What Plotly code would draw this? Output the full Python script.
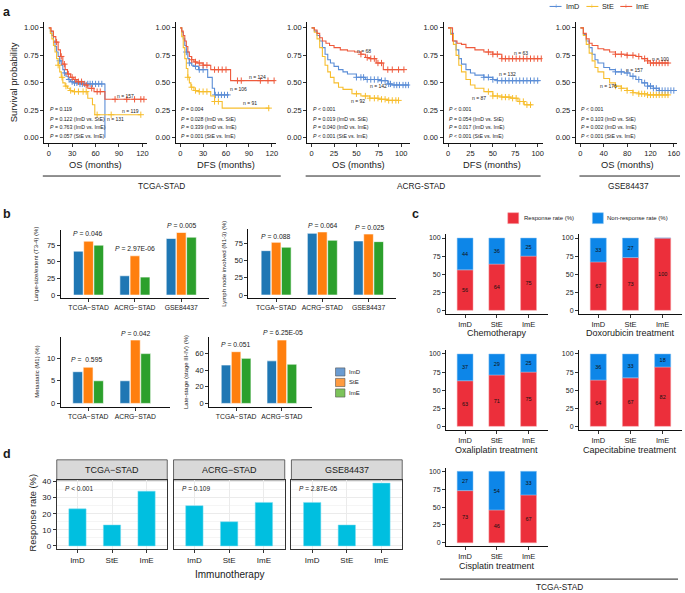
import plotly.graph_objects as go

W, H = 685, 593
FONT = "Liberation Sans"
TXT = "#1a1a1a"

# ---------------- colours ----------------
C_IMD, C_STE, C_IME = "#5B8DD6", "#F7BE2E", "#EE5A3C"
B_COL = ["#1F77B4", "#FF7F0E", "#2CA02C"]
B_LEG = ["#6A9BD1", "#FF9B40", "#7CC35A"]
C_RESP, C_NON = "#EC2F3B", "#0D86E8"
D_COL = "#00BFE0"

# ---------------- panel a : Kaplan-Meier step knots ----------------
# TCGA-STAD OS
TO_IMD_T = [0, 2, 4, 6, 8, 10, 12, 14, 16, 18, 20, 22, 25, 28, 32, 40, 72]
TO_IMD_S = [1, .97, .93, .88, .83, .78, .74, .70, .66, .62, .59, .56, .53, .51, .50, .49, 0.0]
TO_IMD_END = 72
TO_IMD_C = [14, 20, 26, 30, 33, 36, 40, 43, 46, 50, 53, 56, 60, 64, 68]
TO_STE_T = [0, 2, 4, 6, 8, 10, 12, 14, 16, 18, 21, 24, 27, 30, 50, 56, 59]
TO_STE_S = [1, .95, .90, .84, .78, .72, .66, .60, .55, .50, .47, .45, .43, .42, .36, .30, .21]
TO_STE_END = 118
TO_STE_C = [12, 17, 22, 28, 33, 38, 44, 48, 62, 80, 118]
TO_IME_T = [0, 3, 6, 9, 12, 15, 18, 21, 24, 28, 32, 36, 45, 50, 58, 72]
TO_IME_S = [1, .97, .92, .87, .80, .74, .67, .62, .58, .55, .53, .51, .48, .45, .42, .35]
TO_IME_END = 122
TO_IME_C = [10, 16, 20, 25, 30, 34, 38, 42, 48, 55, 62, 66, 85, 100, 110, 118, 122]

# TCGA-STAD DFS
TD_IMD_T = [0, 2, 4, 6, 8, 10, 12, 15, 18, 24, 36, 42, 45]
TD_IMD_S = [1, .96, .90, .84, .78, .72, .68, .66, .65, .62, .55, .45, .39]
TD_IMD_END = 64
TD_IMD_C = [8, 12, 20, 25, 30, 46, 50, 54, 58, 62]
TD_STE_T = [0, 2, 4, 6, 8, 10, 12, 14, 18, 24, 40, 45, 55]
TD_STE_S = [1, .92, .82, .72, .63, .55, .50, .46, .43, .42, .38, .33, .27]
TD_STE_END = 117
TD_STE_C = [10, 15, 20, 25, 30, 35, 45, 50, 116]
TD_IME_T = [0, 2, 4, 6, 8, 10, 12, 15, 18, 22, 30, 40, 66]
TD_IME_S = [1, .97, .93, .88, .83, .78, .74, .71, .69, .68, .66, .62, .52]
TD_IME_END = 123
TD_IME_C = [15, 20, 25, 30, 35, 45, 50, 55, 60, 75, 80, 105, 115, 123]

# ACRG-STAD OS
AO_IMD_T = [0, 3, 6, 9, 12, 15, 18, 21, 25, 30, 35, 40, 50, 60, 75, 85, 90]
AO_IMD_S = [1, .97, .93, .88, .82, .76, .71, .68, .65, .62, .60, .58, .55, .53, .52, .49, .48]
AO_IMD_END = 108
AO_IMD_C = [50, 55, 58, 62, 66, 70, 74, 78, 82, 86, 88, 92, 95, 98, 102, 105, 108]
AO_STE_T = [0, 3, 6, 9, 12, 15, 18, 21, 25, 30, 35, 45, 55, 65, 75, 85]
AO_STE_S = [1, .96, .90, .82, .74, .66, .60, .55, .50, .46, .44, .40, .38, .36, .35, .34]
AO_STE_END = 97
AO_STE_C = [50, 60, 65, 70, 74, 78, 82, 86, 90, 94, 97]
AO_IME_T = [0, 3, 6, 9, 12, 16, 20, 25, 32, 40, 48, 55, 60, 65, 72, 80]
AO_IME_S = [1, .98, .95, .91, .88, .86, .84, .82, .80, .79, .78, .76, .73, .72, .68, .62]
AO_IME_END = 103
AO_IME_C = [55, 62, 66, 70, 74, 78, 85, 90, 97, 103]

# ACRG-STAD DFS
AD_IMD_T = [0, 3, 6, 9, 12, 15, 20, 25, 30, 40, 50, 55]
AD_IMD_S = [1, .95, .88, .80, .72, .67, .62, .59, .57, .55, .53, .52]
AD_IMD_END = 102
AD_IMD_C = [40, 45, 50, 55, 60, 64, 68, 72, 76, 80, 84, 88, 92, 96, 100]
AD_STE_T = [0, 3, 6, 9, 12, 15, 20, 25, 30, 40, 50, 60, 70, 78, 85]
AD_STE_S = [1, .94, .85, .75, .66, .60, .53, .48, .45, .42, .38, .37, .36, .33, .30]
AD_STE_END = 94
AD_STE_C = [45, 50, 55, 60, 64, 68, 72, 76, 80, 84, 88, 92]
AD_IME_T = [0, 5, 10, 15, 20, 30, 40, 50, 60]
AD_IME_S = [1, .88, .86, .85, .82, .80, .78, .76, .72]
AD_IME_END = 104
AD_IME_C = [45, 50, 55, 60, 64, 68, 72, 76, 80, 84, 88, 92, 96, 100, 104]

# GSE84437 OS
GO_IMD_T = [0, 5, 10, 15, 20, 25, 30, 40, 50, 60, 75, 85, 95, 105, 115, 125, 135]
GO_IMD_S = [1, .94, .88, .82, .76, .71, .68, .64, .62, .60, .59, .56, .53, .50, .47, .45, .43]
GO_IMD_END = 162
GO_IMD_C = [60, 70, 80, 90, 100, 110, 115, 120, 125, 130, 135, 140, 145, 150, 155, 160]
GO_STE_T = [0, 5, 10, 15, 20, 25, 30, 40, 50, 60, 70, 80, 90, 100, 115]
GO_STE_S = [1, .93, .85, .77, .70, .64, .60, .54, .50, .47, .45, .43, .41, .40, .39]
GO_STE_END = 152
GO_STE_C = [60, 70, 80, 90, 100, 105, 110, 115, 120, 125, 130, 135, 140, 145, 150]
GO_IME_T = [0, 5, 10, 15, 20, 30, 40, 50, 60, 80, 95, 105, 115, 120]
GO_IME_S = [1, .95, .90, .86, .84, .81, .80, .78, .76, .75, .74, .72, .70, .68]
GO_IME_END = 152
GO_IME_C = [60, 70, 80, 90, 100, 110, 115, 120, 125, 130, 135, 140, 145, 150]

SURV_TICKS_Y = [0, 0.25, 0.5, 0.75, 1.0]
SURV_TICKTEXT_Y = ["0.00", "0.25", "0.50", "0.75", "1.00"]

P_TO = ["P = 0.119", "P = 0.122 (ImD vs. StE)", "P = 0.763 (ImD vs. ImE)", "P = 0.057 (StE vs. ImE)"]
P_TD = ["P = 0.004", "P = 0.028 (ImD vs. StE)", "P = 0.339 (ImD vs. ImE)", "P = 0.001 (StE vs. ImE)"]
P_AO = ["P < 0.001", "P = 0.019 (ImD vs. StE)", "P = 0.040 (ImD vs. ImE)", "P < 0.001 (StE vs. ImE)"]
P_AD = ["P < 0.001", "P = 0.054 (ImD vs. StE)", "P = 0.017 (ImD vs. ImE)", "P < 0.001 (StE vs. ImE)"]
P_GO = ["P < 0.001", "P = 0.103 (ImD vs. StE)", "P = 0.002 (ImD vs. ImE)", "P < 0.001 (StE vs. ImE)"]

N_TO = ["n = 131", "n = 119", "n = 157"]
N_TD = ["n = 106", "n = 91", "n = 124"]
N_AO = ["n = 142", "n = 92", "n = 68"]
N_AD = ["n = 132", "n = 87", "n = 63"]
N_GO = ["n = 157", "n = 176", "n = 100"]

# ---------------- panel b ----------------
B_COH3 = ["TCGA\u2212STAD", "ACRG\u2212STAD", "GSE84437"]
B_COH2 = ["TCGA\u2212STAD", "ACRG\u2212STAD"]
B_T34_IMD = [66, 29, 85]
B_T34_STE = [81, 59, 94]
B_T34_IME = [75, 27, 87]
B_N13_IMD = [64, 89, 78]
B_N13_STE = [76, 91, 88]
B_N13_IME = [69, 79, 77]
B_M1_IMD = [7, 5]
B_M1_STE = [8, 14]
B_M1_IME = [5, 11]
B_ST_IMD = [46, 51]
B_ST_STE = [62, 76]
B_ST_IME = [54, 47]
B_P_T34 = ["P = 0.046", "P = 2.97E-06", "P = 0.005"]
B_P_N13 = ["P = 0.088", "P = 0.064", "P = 0.025"]
B_P_M1 = ["P =  0.595", "P = 0.042"]
B_P_ST = ["P = 0.051", "P = 6.25E-05"]

# ---------------- panel c ----------------
SUBTYPES = ["ImD", "StE", "ImE"]
C_CHEMO_R = [56, 64, 75]
C_CHEMO_N = [44, 36, 25]
C_DOXO_R = [67, 73, 100]
C_DOXO_N = [33, 27, 0]
C_OXA_R = [63, 71, 75]
C_OXA_N = [37, 29, 25]
C_CAPE_R = [64, 67, 82]
C_CAPE_N = [36, 33, 18]
C_CIS_R = [73, 46, 67]
C_CIS_N = [27, 54, 33]

# ---------------- panel d ----------------
D_TCGA = [23, 13, 34]
D_ACRG = [25, 15, 27]
D_GSE = [27, 13, 39]
D_P = ["P < 0.001", "P = 0.109", "P = 2.87E-05"]

# ======================================================================
fig = go.Figure()
LAYOUT = {}
ANN = []
SHP = []
_k = [0]


def fx(p):
    return p / W


def fy(p):
    return 1 - p / H


def italp(s):
    return s.replace("P ", "<i>P</i> ", 1)


def txt(x, y, s, size, xanchor="center", yanchor="middle", angle=0, color=TXT,
        xref="paper", yref="paper"):
    if xref == "paper":
        x = fx(x)
    if yref == "paper":
        y = fy(y)
    ANN.append(dict(x=x, y=y, xref=xref, yref=yref, text=s, showarrow=False,
                    font=dict(size=size, color=color, family=FONT),
                    xanchor=xanchor, yanchor=yanchor, textangle=angle, borderpad=0))


def hline(x0, x1, y, color="#222", width=1):
    SHP.append(dict(type="line", xref="paper", yref="paper", x0=fx(x0), x1=fx(x1),
                    y0=fy(y), y1=fy(y), line=dict(color=color, width=width)))


def rect(x0, y0, x1, y1, fill, line="#444", lw=0.8):
    SHP.append(dict(type="rect", xref="paper", yref="paper", x0=fx(x0), x1=fx(x1),
                    y0=fy(y1), y1=fy(y0), fillcolor=fill, line=dict(color=line, width=lw),
                    layer="below"))


def add_axes(xpx, ypx, xr, yr, ytv, ytt=None, xtv=None, xtt=None, xfont=7, yfont=7,
             box=False, grid=False, show_y=True, xcat=False):
    _k[0] += 1
    k = _k[0]
    s = "" if k == 1 else str(k)
    xn, yn = "x" + s, "y" + s
    base = dict(showline=True, linecolor="#111", linewidth=1, ticks="outside", ticklen=3,
                tickwidth=1, tickcolor="#333", zeroline=False, showgrid=False, fixedrange=True)
    xa = dict(base, domain=[fx(xpx[0]), fx(xpx[1])], range=xr, anchor=yn,
              tickfont=dict(size=xfont, color=TXT, family=FONT))
    if xcat:
        xa.update(type="category")
    else:
        xa.update(tickmode="array", tickvals=xtv, ticktext=xtt)
    ya = dict(base, domain=[fy(ypx[1]), fy(ypx[0])], range=yr, anchor=xn,
              tickmode="array", tickvals=ytv, ticktext=ytt if ytt else [str(v) for v in ytv],
              tickfont=dict(size=yfont, color=TXT, family=FONT))
    if box:
        for a in (xa, ya):
            a.update(mirror=True, linecolor="#333", linewidth=0.8, tickcolor="#333")
    if grid:
        xa.update(showgrid=True, gridcolor="#EBEBEB", gridwidth=0.8)
        ya.update(showgrid=True, gridcolor="#EBEBEB", gridwidth=0.8,
                  minor=dict(tickvals=[5, 15, 25, 35], showgrid=True, gridcolor="#F5F5F5",
                             gridwidth=0.5, ticks=""))
    if not show_y:
        ya.update(showticklabels=False, ticks="")
    LAYOUT["xaxis" + s] = xa
    LAYOUT["yaxis" + s] = ya
    return xn, yn


def step_at(t, s, q):
    v = s[0]
    for ti, si in zip(t, s):
        if ti <= q:
            v = si
    return v


# ----------------------------- panel a -----------------------------
SURV_Y = (19.5, 141.5)
surv_plots = [
    dict(xpx=(44.3, 147.7), xr=[-6, 126], xt=[0, 30, 60, 90, 120], title="OS (months)", tx=96,
         ser=[(TO_IMD_T, TO_IMD_S, TO_IMD_END, TO_IMD_C, C_IMD),
              (TO_STE_T, TO_STE_S, TO_STE_END, TO_STE_C, C_STE),
              (TO_IME_T, TO_IME_S, TO_IME_END, TO_IME_C, C_IME)],
         n=N_TO, npos=[(74, .17), (93, .24), (86, .38)], p=P_TO),
    dict(xpx=(176.4, 277.6), xr=[-6, 126], xt=[0, 30, 60, 90, 120], title="DFS (months)", tx=227,
         ser=[(TD_IMD_T, TD_IMD_S, TD_IMD_END, TD_IMD_C, C_IMD),
              (TD_STE_T, TD_STE_S, TD_STE_END, TD_STE_C, C_STE),
              (TD_IME_T, TD_IME_S, TD_IME_END, TD_IME_C, C_IME)],
         n=N_TD, npos=[(64, .44), (81, .32), (89, .55)], p=P_TD),
    dict(xpx=(308.5, 412), xr=[-5, 110], xt=[0, 25, 50, 75, 100], title="OS (months)", tx=360,
         ser=[(AO_IMD_T, AO_IMD_S, AO_IMD_END, AO_IMD_C, C_IMD),
              (AO_STE_T, AO_STE_S, AO_STE_END, AO_STE_C, C_STE),
              (AO_IME_T, AO_IME_S, AO_IME_END, AO_IME_C, C_IME)],
         n=N_AO, npos=[(64, .475), (43, .335), (50, .785)], p=P_AO),
    dict(xpx=(445.5, 545), xr=[-5, 105.5], xt=[0, 25, 50, 75, 100], title="DFS (months)", tx=494,
         ser=[(AD_IMD_T, AD_IMD_S, AD_IMD_END, AD_IMD_C, C_IMD),
              (AD_STE_T, AD_STE_S, AD_STE_END, AD_STE_C, C_STE),
              (AD_IME_T, AD_IME_S, AD_IME_END, AD_IME_C, C_IME)],
         n=N_AD, npos=[(56, .58), (26, .363), (72, .775)], p=P_AD),
    dict(xpx=(578.3, 680.3), xr=[-8, 166], xt=[0, 40, 80, 120, 160], title="OS (months)", tx=630,
         ser=[(GO_IMD_T, GO_IMD_S, GO_IMD_END, GO_IMD_C, C_IMD),
              (GO_STE_T, GO_STE_S, GO_STE_END, GO_STE_C, C_STE),
              (GO_IME_T, GO_IME_S, GO_IME_END, GO_IME_C, C_IME)],
         n=N_GO, npos=[(77, .62), (32, .475), (121, .72)], p=P_GO),
]

for sp in surv_plots:
    xn, yn = add_axes(sp["xpx"], SURV_Y, sp["xr"], [-0.05, 1.05], SURV_TICKS_Y, SURV_TICKTEXT_Y,
                      sp["xt"], [str(v) for v in sp["xt"]], xfont=7.5, yfont=7.5)
    for (t, s, end, cens, col) in sp["ser"]:
        fig.add_trace(go.Scatter(x=t + [end], y=s + [s[-1]], mode="lines",
                                 line=dict(shape="hv", color=col, width=1.1),
                                 xaxis=xn, yaxis=yn, hoverinfo="skip"))
        fig.add_trace(go.Scatter(x=cens, y=[step_at(t, s, c) for c in cens], mode="markers",
                                 marker=dict(symbol="cross-thin", size=4.5,
                                             line=dict(color=col, width=1)),
                                 xaxis=xn, yaxis=yn, hoverinfo="skip"))
    for lab, (px, py) in zip(sp["n"], sp["npos"]):
        txt(px, py, lab, 5, xanchor="left", xref=xn, yref=yn)
    for line, ypx in zip(sp["p"], [107, 116.5, 125.5, 134.5]):
        txt(0, ypx, italp(line), 5.2, xanchor="left", xref=xn)
    txt(sp["tx"], 163, sp["title"], 9.3)

txt(2, 9, "<b>a</b>", 12.5, xanchor="left")
txt(13, 80, "Survival probability", 9.5, angle=-90)
# cohort brackets
hline(43, 282, 174.5)
hline(307, 543, 174.5)
hline(582, 683, 174.5)
txt(162, 185, "TCGA-STAD", 8.3)
txt(423, 185, "ACRG-STAD", 8.3)
txt(631, 185, "GSE84437", 8.3)
# survival legend (drawn)
for (lx, lab, col) in [(552, "ImD", C_IMD), (589, "StE", C_STE), (623, "ImE", C_IME)]:
    SHP.append(dict(type="line", xref="paper", yref="paper", x0=fx(lx), x1=fx(lx + 12),
                    y0=fy(3.5), y1=fy(3.5), line=dict(color=col, width=1.1)))
    txt(lx + 6, 3.5, "+", 7, color=col)
    txt(lx + 15, 3.5, lab, 7.3, xanchor="left")

# ----------------------------- panel b -----------------------------
b_plots = [
    dict(xpx=(61, 210), ypx=(229, 297.7), xr=[-0.6, 2.6], yr=[-4.65, 97.65], yt=[0, 25, 50, 75],
         cats=B_COH3, vals=(B_T34_IMD, B_T34_STE, B_T34_IME), p=B_P_T34,
         ppos=[(88, 232), (135.5, 248), (182.5, 224)],
         title="Large-size/extent (T3-4) (%)", tpos=(36, 263)),
    dict(xpx=(249.5, 398), ypx=(227.7, 297.7), xr=[-0.6, 2.6], yr=[-4.55, 95.55], yt=[0, 25, 50, 75],
         cats=B_COH3, vals=(B_N13_IMD, B_N13_STE, B_N13_IME), p=B_P_N13,
         ppos=[(277.5, 235), (324.5, 224), (372, 226)],
         title="Lymph node involved (N1-3) (%)", tpos=(225, 263)),
    dict(xpx=(61, 171), ypx=(336.7, 407), xr=[-0.58, 1.74], yr=[-0.7, 14.7], yt=[0, 5, 10],
         cats=B_COH2, vals=(B_M1_IMD, B_M1_STE, B_M1_IME), p=B_P_M1,
         ppos=[(87, 360), (137, 333)],
         title="Metastatic (M1) (%)", tpos=(37, 372)),
    dict(xpx=(210, 313), ypx=(336.7, 407), xr=[-0.59, 1.65], yr=[-3.8, 79.8], yt=[0, 20, 40, 60],
         cats=B_COH2, vals=(B_ST_IMD, B_ST_STE, B_ST_IME), p=B_P_ST,
         ppos=[(237, 344), (284, 332)],
         title="Late-stage (stage III-IV) (%)", tpos=(187, 372)),
]
for bp in b_plots:
    xn, yn = add_axes(bp["xpx"], bp["ypx"], bp["xr"], bp["yr"], bp["yt"], xfont=6.8, yfont=7.5,
                      xcat=True)
    for vals, col in zip(bp["vals"], B_COL):
        fig.add_trace(go.Bar(x=bp["cats"], y=vals, marker=dict(color=col, line=dict(color="white", width=0.6)),
                             xaxis=xn, yaxis=yn, hoverinfo="skip"))
    for lab, (px, py) in zip(bp["p"], bp["ppos"]):
        txt(px, py, italp(lab), 6.8)
    txt(bp["tpos"][0], bp["tpos"][1], bp["title"], 6, angle=-90)

txt(2, 213, "<b>b</b>", 12.5, xanchor="left")
for i, (lab, col) in enumerate(zip(SUBTYPES, B_LEG)):
    y0 = 368 + i * 10.6
    rect(337, y0, 346.5, y0 + 8.2, col, line="#555", lw=0.6)
    txt(350, y0 + 4.1, lab, 6, xanchor="left")

# ----------------------------- panel c -----------------------------
CX1, CX2 = (448, 550), (581.5, 685)
c_plots = [
    (CX1, (233.4, 313.6), C_CHEMO_R, C_CHEMO_N, "Chemotherapy", 499, 333),
    (CX2, (233.4, 313.6), C_DOXO_R, C_DOXO_N, "Doxorubicin treatment", 633, 333),
    (CX1, (350.3, 430.6), C_OXA_R, C_OXA_N, "Oxaliplatin treatment", 499, 451),
    (CX2, (350.3, 430.6), C_CAPE_R, C_CAPE_N, "Capecitabine treatment", 633, 451),
    (CX1, (468.7, 548.0), C_CIS_R, C_CIS_N, "Cisplatin treatment", 499, 568),
]
for (xpx, ypx, resp, non, title, tx, ty) in c_plots:
    xn, yn = add_axes(xpx, ypx, [-0.6, 2.6], [-5, 105], [0, 25, 50, 75, 100], xfont=7.5, yfont=7,
                      xcat=True)
    fig.add_trace(go.Bar(x=SUBTYPES, y=resp, width=0.5, offset=-0.25, offsetgroup="c",
                         marker=dict(color=C_RESP, line=dict(color="#F6A0A6", width=0.5)),
                         text=[str(v) for v in resp], textposition="inside",
                         insidetextanchor="middle", textangle=0,
                         textfont=dict(size=5.5, color="#111", family=FONT),
                         xaxis=xn, yaxis=yn, hoverinfo="skip"))
    fig.add_trace(go.Bar(x=SUBTYPES, y=non, base=resp, width=0.5, offset=-0.25, offsetgroup="c",
                         marker=dict(color=C_NON, line=dict(color="#8CC4F2", width=0.5)),
                         text=[str(v) if v > 0 else "" for v in non], textposition="inside",
                         insidetextanchor="middle", textangle=0,
                         textfont=dict(size=5.5, color="#111", family=FONT),
                         xaxis=xn, yaxis=yn, hoverinfo="skip"))
    txt(tx, ty, title, 9)

txt(413, 213, "<b>c</b>", 12.5, xanchor="left")
rect(510, 211.5, 521, 222.5, C_RESP, line="#F6A0A6", lw=0.5)
txt(525, 217, "Response rate (%)", 6, xanchor="left")
rect(595, 211.5, 606, 222.5, C_NON, line="#8CC4F2", lw=0.5)
txt(609, 217, "Non-response rate (%)", 6, xanchor="left")
hline(442, 681, 581)
txt(561.5, 589, "TCGA-STAD", 8.3)

# ----------------------------- panel d -----------------------------
D_YPX = (481, 550.7)
d_plots = [
    ((57, 168), D_TCGA, "TCGA\u2212STAD", D_P[0], True),
    ((174.3, 286), D_ACRG, "ACRG\u2212STAD", D_P[1], False),
    ((292.7, 404), D_GSE, "GSE84437", D_P[2], False),
]
for (xpx, vals, strip, ptxt, showy) in d_plots:
    xn, yn = add_axes(xpx, D_YPX, [-0.6, 2.6], [-1.95, 40.95], [0, 10, 20, 30, 40],
                      xfont=8, yfont=8, box=True, grid=True, show_y=showy, xcat=True)
    fig.add_trace(go.Bar(x=SUBTYPES, y=vals, width=0.5, offset=-0.25, offsetgroup="d",
                         marker=dict(color=D_COL, line=dict(color="#7FDDF0", width=0.5)),
                         xaxis=xn, yaxis=yn, hoverinfo="skip"))
    rect(xpx[0], 460.7, xpx[1], 481, "#D9D9D9", line="#444", lw=0.8)
    txt((xpx[0] + xpx[1]) / 2, 471, strip, 9)
    txt(xpx[0] + 7, 490, italp(ptxt), 6.5, xanchor="left")

txt(2, 455, "<b>d</b>", 12.5, xanchor="left")
txt(33, 514, "Response rate (%)", 9.3, angle=-90)
txt(230.5, 576, "Immunotherapy", 10)

# ----------------------------- layout -----------------------------
fig.update_layout(
    width=W, height=H, margin=dict(l=0, r=0, t=0, b=0),
    paper_bgcolor="white", plot_bgcolor="white",
    showlegend=False, barmode="group", bargap=0.34, bargroupgap=0.05,
    font=dict(family=FONT, color=TXT),
    annotations=ANN, shapes=SHP,
    **LAYOUT,
)
fig.write_html("out.html", config={"displayModeBar": False},
               post_script="document.body.style.margin='0';document.body.style.overflow='hidden';")
